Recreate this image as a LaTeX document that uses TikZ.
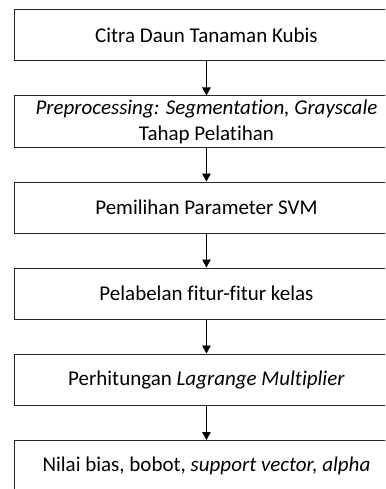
\documentclass[tikz,border=0pt]{standalone}
\usepackage{fontspec}
\setmainfont{Carlito}[Ligatures={NoCommon,NoRare,NoContextual}]
\usetikzlibrary{arrows.meta}
\begin{document}
\begin{tikzpicture}[x=1pt,y=-1pt,
  stepbox/.style={draw=black!85, line width=0.9pt, minimum width=384pt, minimum height=51.5pt,
    inner sep=0pt, align=center, font=\fontsize{21}{26.5}\selectfont, anchor=north west},
  flow/.style={-{Triangle[length=8pt,width=8.5pt]}, line width=0.9pt, draw=black}]
\useasboundingbox (0,0) rectangle (385,489);
\clip (0,0) rectangle (385,489);
\node[stepbox] (b1) at (14,9) {Citra Daun Tanaman Kubis};
\node[stepbox] (b2) at (14,95.5) {\textit{Preprocessing: Segmentation, Grayscale}\\Tahap Pelatihan};
\node[stepbox] (b3) at (14,181.5) {Pemilihan Parameter SVM};
\node[stepbox] (b4) at (14,267.5) {Pelabelan fitur-fitur kelas};
\node[stepbox] (b5) at (14,353.5) {Perhitungan \textit{Lagrange Multiplier}};
\node[stepbox] (b6) at (14,440) {Nilai bias, bobot, \textit{support vector, alpha}};
\draw[flow] (b1) -- (b2);
\draw[flow] (b2) -- (b3);
\draw[flow] (b3) -- (b4);
\draw[flow] (b4) -- (b5);
\draw[flow] (b5) -- (b6);
\end{tikzpicture}
\end{document}
